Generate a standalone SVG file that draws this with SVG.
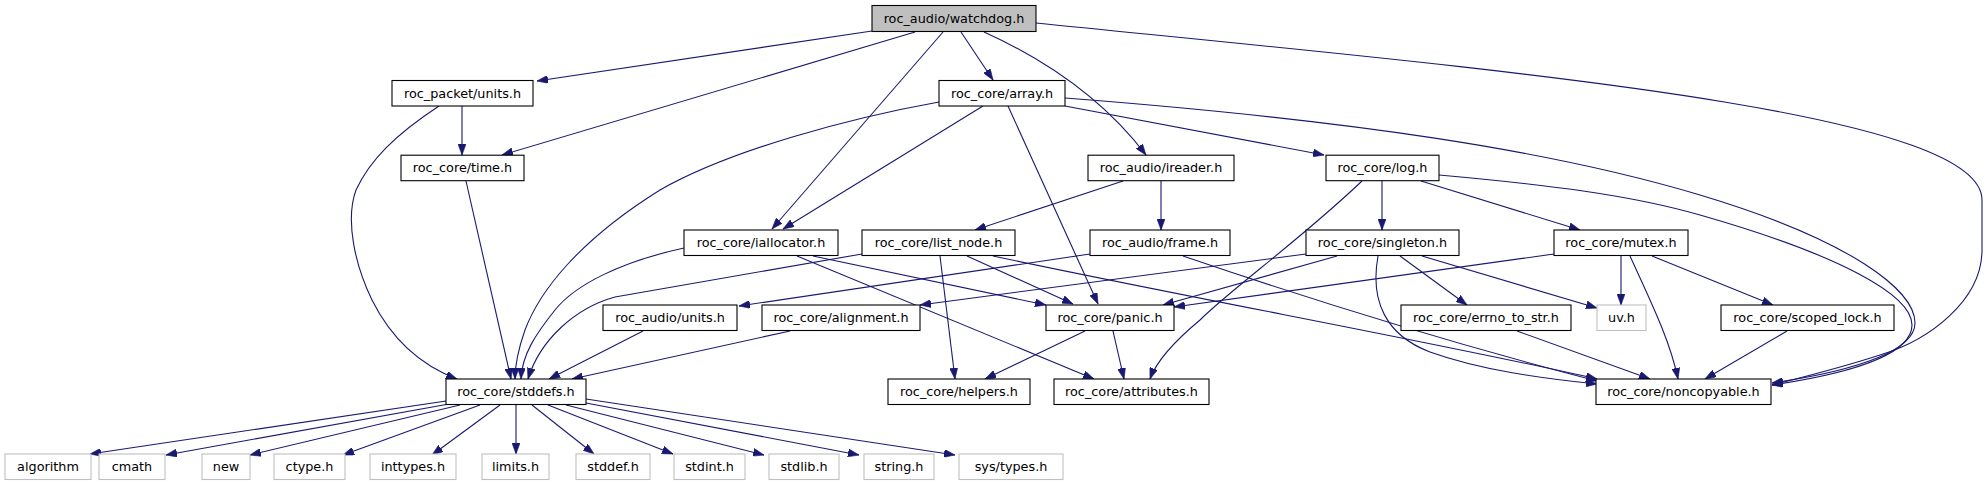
<svg xmlns="http://www.w3.org/2000/svg" width="1988" height="485" viewBox="0 0 1988 485">
<style>
.n rect{fill:#fff;stroke:#000;stroke-width:1.1}
.g rect{fill:#fff;stroke:#bfbfbf;stroke-width:1.1}
.r rect{fill:#bfbfbf;stroke:#000;stroke-width:1.1}
text{font-family:"DejaVu Sans",sans-serif;font-size:12.8px;fill:#000;text-anchor:middle}
#edges path{fill:none;stroke:#191970;stroke-width:1.1;marker-end:url(#a)}
</style>
<defs>
<marker id="a" viewBox="0 0 11 8" refX="11" refY="4" markerWidth="11" markerHeight="8" markerUnits="userSpaceOnUse" orient="auto">
<path d="M0,0L11,4L0,8z" fill="#191970" stroke="#191970" stroke-width="0.6"/>
</marker>
</defs>
<rect width="1988" height="485" fill="#fff"/>
<g id="edges">
<path d="M872,31 L537,81"/>
<path d="M915,32 L502,155"/>
<path d="M943,32 L772,229"/>
<path d="M961,32 L993,80"/>
<path d="M984,32 Q1088,79 1146,155"/>
<path d="M1036,23 C1500,70 1982,110 1982,200 L1982,250 C1982,300 1930,340 1880,355 C1840,368 1800,378 1772,385"/>
<path d="M462,106 L462,155"/>
<path d="M439,106 C395,135 370,160 356,190 C345,220 355,265 372,300 C392,340 420,365 457,379"/>
<path d="M466,181 L511,379"/>
<path d="M939,102 C850,118 730,150 660,190 C580,240 540,290 525,330 C518,350 515,365 515,379"/>
<path d="M983,106 L783,229"/>
<path d="M1008,106 L1098,304"/>
<path d="M1065,106 L1324,155"/>
<path d="M1065,98 C1350,120 1550,150 1700,195 C1850,240 1915,290 1915,323 C1915,350 1860,370 1772,383"/>
<path d="M1123,181 L975,230"/>
<path d="M1161,181 L1161,230"/>
<path d="M1362,181 C1300,240 1230,290 1200,320 C1170,345 1155,365 1150,379"/>
<path d="M1382,181 L1382,230"/>
<path d="M1421,181 L1580,230"/>
<path d="M1439,175 C1550,185 1630,195 1700,215 C1840,255 1912,295 1912,325 C1912,352 1860,372 1772,385"/>
<path d="M684,248 C620,262 575,285 555,310 C535,335 522,355 521,379"/>
<path d="M813,256 L1046,305"/>
<path d="M797,256 L1094,379"/>
<path d="M862,254 L615,297 C575,308 540,340 528,379"/>
<path d="M940,256 L955,379"/>
<path d="M967,256 L1073,304"/>
<path d="M993,256 C1200,300 1450,345 1597,379"/>
<path d="M1090,254 L739,306"/>
<path d="M1183,256 Q1400,330 1597,381"/>
<path d="M1306,254 L920,305"/>
<path d="M1337,256 L1163,305"/>
<path d="M1400,256 L1467,305"/>
<path d="M1422,256 L1597,308"/>
<path d="M1378,256 C1370,300 1385,335 1430,352 C1480,370 1540,378 1597,384"/>
<path d="M1554,254 L1174,307"/>
<path d="M1621,256 L1621,305"/>
<path d="M1630,256 C1650,300 1670,340 1678,379"/>
<path d="M1652,256 L1773,305"/>
<path d="M1517,331 L1650,379"/>
<path d="M1787,331 L1705,379"/>
<path d="M643,331 L549,379"/>
<path d="M790,331 L572,379"/>
<path d="M1085,331 L985,379"/>
<path d="M1113,331 L1124,379"/>
<path d="M446,401 L90,454"/>
<path d="M449,404 L166,455"/>
<path d="M460,405 L250,455"/>
<path d="M480,405 L343,455"/>
<path d="M500,405 L432,455"/>
<path d="M516,405 L516,454"/>
<path d="M532,405 L594,454"/>
<path d="M548,405 L673,454"/>
<path d="M566,405 L764,455"/>
<path d="M586,403 L859,455"/>
<path d="M586,399 L955,455"/>
</g>
<g id="watchdog" class="r"><rect x="872" y="5.5" width="164" height="26"/><text x="954" y="23">roc_audio/watchdog.h</text></g>
<g id="packet_units" class="n"><rect x="392" y="80.5" width="141" height="25.5"/><text x="462.5" y="97.5">roc_packet/units.h</text></g>
<g id="array" class="n"><rect x="939" y="80.5" width="126" height="25.5"/><text x="1002" y="97.5">roc_core/array.h</text></g>
<g id="time" class="n"><rect x="401" y="155.2" width="123" height="25.5"/><text x="462.5" y="172.2">roc_core/time.h</text></g>
<g id="ireader" class="n"><rect x="1088" y="155.2" width="146" height="25.5"/><text x="1161" y="172.2">roc_audio/ireader.h</text></g>
<g id="log" class="n"><rect x="1326" y="155.2" width="113" height="25.5"/><text x="1382.5" y="172.2">roc_core/log.h</text></g>
<g id="iallocator" class="n"><rect x="684" y="230" width="154" height="25.5"/><text x="761" y="247">roc_core/iallocator.h</text></g>
<g id="list_node" class="n"><rect x="862" y="230" width="153" height="25.5"/><text x="938.5" y="247">roc_core/list_node.h</text></g>
<g id="frame" class="n"><rect x="1090" y="230" width="140" height="25.5"/><text x="1160" y="247">roc_audio/frame.h</text></g>
<g id="singleton" class="n"><rect x="1306" y="230" width="153" height="25.5"/><text x="1382.5" y="247">roc_core/singleton.h</text></g>
<g id="mutex" class="n"><rect x="1554" y="230" width="134" height="25.5"/><text x="1621" y="247">roc_core/mutex.h</text></g>
<g id="audio_units" class="n"><rect x="603" y="305" width="134" height="25.5"/><text x="670" y="322">roc_audio/units.h</text></g>
<g id="alignment" class="n"><rect x="762" y="305" width="158" height="25.5"/><text x="841" y="322">roc_core/alignment.h</text></g>
<g id="panic" class="n"><rect x="1046" y="305" width="128" height="25.5"/><text x="1110" y="322">roc_core/panic.h</text></g>
<g id="errno_to_str" class="n"><rect x="1401" y="305" width="170" height="25.5"/><text x="1486" y="322">roc_core/errno_to_str.h</text></g>
<g id="uv" class="g"><rect x="1597" y="305" width="49" height="25.5"/><text x="1621.5" y="322">uv.h</text></g>
<g id="scoped_lock" class="n"><rect x="1721" y="305" width="173" height="25.5"/><text x="1807.5" y="322">roc_core/scoped_lock.h</text></g>
<g id="stddefs" class="n"><rect x="446" y="379" width="140" height="25.5"/><text x="516" y="396">roc_core/stddefs.h</text></g>
<g id="helpers" class="n"><rect x="888" y="379" width="142" height="25.5"/><text x="959" y="396">roc_core/helpers.h</text></g>
<g id="attributes" class="n"><rect x="1054" y="379" width="155" height="25.5"/><text x="1131.5" y="396">roc_core/attributes.h</text></g>
<g id="noncopyable" class="n"><rect x="1596" y="379" width="175" height="25.5"/><text x="1683.5" y="396">roc_core/noncopyable.h</text></g>
<g id="algorithm" class="g"><rect x="5" y="454" width="86" height="25.5"/><text x="48" y="471">algorithm</text></g>
<g id="cmath" class="g"><rect x="99" y="454" width="66" height="25.5"/><text x="132" y="471">cmath</text></g>
<g id="new" class="g"><rect x="202" y="454" width="48" height="25.5"/><text x="226" y="471">new</text></g>
<g id="ctype" class="g"><rect x="274" y="454" width="71" height="25.5"/><text x="309.5" y="471">ctype.h</text></g>
<g id="inttypes" class="g"><rect x="370" y="454" width="86" height="25.5"/><text x="413" y="471">inttypes.h</text></g>
<g id="limits" class="g"><rect x="482" y="454" width="67" height="25.5"/><text x="515.5" y="471">limits.h</text></g>
<g id="stddef" class="g"><rect x="576" y="454" width="74" height="25.5"/><text x="613" y="471">stddef.h</text></g>
<g id="stdint" class="g"><rect x="674" y="454" width="71" height="25.5"/><text x="709.5" y="471">stdint.h</text></g>
<g id="stdlib" class="g"><rect x="769" y="454" width="70" height="25.5"/><text x="804" y="471">stdlib.h</text></g>
<g id="string" class="g"><rect x="864" y="454" width="70" height="25.5"/><text x="899" y="471">string.h</text></g>
<g id="sys_types" class="g"><rect x="959" y="454" width="104" height="25.5"/><text x="1011" y="471">sys/types.h</text></g>
</svg>
